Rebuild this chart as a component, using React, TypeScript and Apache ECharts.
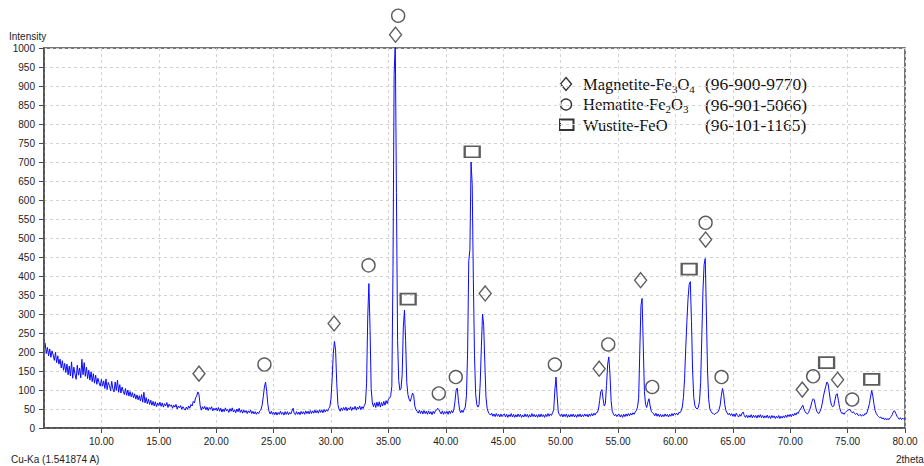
import { useEffect, useRef } from "react";
import * as echarts from "echarts";

// ---- scan (2theta start / step, degrees) ----
const SCAN_START = 5.1;
const SCAN_STEP = 0.1;

// ---- intensity, 5 degree segments ----
const seg05 = [
  224, 196, 212, 190, 208, 186, 203, 192, 178, 199,
  172, 190, 168, 181, 158, 177, 152, 170, 146, 168,
  140, 163, 137, 174, 131, 160, 142, 128, 165, 139,
  158, 132, 181, 140, 172, 136, 160, 130, 152, 126,
  148, 122, 143, 118, 139, 115, 131, 119, 110, 128,
];
const seg10 = [
  110, 124, 104, 129, 101, 120, 112, 98, 123, 103,
  95, 121, 99, 126, 94, 114, 92, 108, 97, 88,
  104, 86, 100, 84, 96, 82, 93, 79, 90, 76,
  87, 74, 85, 71, 88, 68, 94, 66, 80, 64,
  76, 62, 73, 60, 70, 58, 69, 56, 66, 59,
];
const seg15 = [
  68, 57, 66, 55, 64, 58, 67, 54, 63, 57,
  61, 52, 60, 55, 62, 50, 58, 53, 59, 49,
  56, 51, 47, 55, 49, 58, 52, 62, 58, 70,
  66, 79, 84, 95, 88, 60, 47, 56, 50, 57,
  48, 55, 46, 54, 49, 56, 45, 52, 47, 53,
];
const seg20 = [
  45, 54, 44, 52, 42, 50, 43, 53, 45, 49,
  41, 51, 44, 53, 42, 48, 40, 50, 43, 52,
  41, 48, 39, 47, 41, 46, 38, 45, 40, 47,
  38, 44, 37, 43, 36, 42, 38, 45, 48, 60,
  82, 108, 121, 96, 62, 44, 37, 44, 36, 42,
];
const seg25 = [
  35, 42, 34, 41, 36, 44, 36, 41, 34, 43,
  36, 43, 35, 41, 37, 45, 52, 38, 35, 43,
  36, 42, 35, 44, 37, 43, 36, 45, 38, 44,
  37, 46, 38, 45, 39, 47, 40, 46, 39, 48,
  41, 47, 40, 49, 42, 48, 44, 51, 56, 78,
];
const seg30 = [
  130, 196, 228, 205, 118, 62, 50, 44, 53, 46,
  54, 47, 55, 45, 53, 48, 56, 46, 54, 49,
  57, 47, 55, 50, 58, 48, 56, 51, 59, 66,
  118, 292, 380, 262, 104, 66, 56, 66, 54, 68,
  57, 69, 55, 67, 58, 70, 60, 72, 64, 76,
];
const seg35 = [
  78, 85, 110, 420, 930, 1015, 620, 230, 125, 100,
  104, 140, 266, 310, 230, 120, 88, 76, 70, 80,
  92, 86, 58, 48, 44, 39, 47, 38, 45, 37,
  46, 38, 44, 36, 45, 37, 43, 35, 44, 38,
  46, 47, 52, 48, 42, 37, 45, 36, 43, 38,
];
const seg40 = [
  44, 36, 45, 38, 46, 40, 48, 70, 100, 105,
  72, 48, 40, 47, 41, 49, 55, 85, 200, 440,
  470, 700, 640, 390, 190, 90, 62, 55, 62, 120,
  215, 300, 270, 170, 82, 52, 42, 37, 34, 39,
  31, 37, 30, 38, 31, 36, 29, 37, 30, 35,
];
const seg45 = [
  37, 29, 36, 28, 35, 30, 38, 29, 36, 28,
  35, 29, 37, 30, 36, 28, 34, 29, 37, 30,
  36, 28, 35, 29, 38, 30, 36, 29, 35, 28,
  36, 29, 37, 30, 35, 28, 36, 30, 38, 31,
  37, 33, 40, 48, 100, 134, 84, 42, 35, 31,
];
const seg50 = [
  37, 29, 36, 30, 37, 28, 35, 29, 36, 30,
  37, 29, 35, 28, 36, 30, 37, 29, 35, 30,
  37, 31, 36, 29, 37, 31, 38, 32, 39, 34,
  40, 41, 50, 72, 96, 101, 76, 58, 64, 112,
  168, 187, 142, 72, 44, 37, 32, 36, 30, 35,
];
const seg55 = [
  36, 29, 35, 28, 36, 30, 37, 31, 38, 32,
  39, 34, 40, 36, 42, 46, 55, 78, 205, 322,
  341, 218, 96, 62, 54, 68, 77, 58, 44, 40,
  38, 32, 39, 31, 37, 30, 36, 29, 35, 30,
  37, 31, 36, 29, 36, 31, 38, 32, 39, 35,
];
const seg60 = [
  39, 34, 41, 40, 45, 55, 80, 130, 210, 280,
  340, 378, 385, 280, 150, 80, 58, 52, 50, 55,
  70, 120, 240, 360, 430, 446, 300, 150, 75, 50,
  44, 39, 38, 35, 39, 40, 42, 48, 60, 85,
  104, 90, 62, 46, 40, 35, 39, 33, 38, 31,
];
const seg65 = [
  37, 30, 39, 33, 29, 36, 31, 39, 42, 33,
  28, 34, 27, 33, 28, 35, 27, 34, 28, 33,
  26, 34, 28, 35, 27, 33, 26, 32, 27, 34,
  26, 32, 25, 33, 27, 32, 25, 31, 26, 33,
  25, 31, 26, 32, 27, 34, 28, 35, 30, 36,
];
const seg70 = [
  30, 37, 32, 39, 34, 41, 38, 46, 50, 55,
  60, 50, 43, 39, 37, 41, 48, 58, 70, 77,
  74, 58, 45, 40, 38, 44, 52, 66, 84, 98,
  110, 121, 116, 95, 72, 60, 56, 58, 74, 88,
  90, 72, 54, 44, 38, 40, 36, 41, 44, 46,
];
const seg75 = [
  48, 49, 44, 40, 43, 38, 36, 39, 34, 33,
  36, 31, 35, 32, 38, 36, 42, 52, 64, 82,
  99, 84, 62, 46, 38, 33, 30, 27, 29, 24,
  27, 22, 26, 21, 25, 22, 27, 30, 36, 44,
  45, 38, 31, 27, 23, 27, 22, 26, 23, 25,
];

// ---- phase markers [2theta, intensity] ----
const magnetitePeaks = [
  [18.5, 143], [30.27, 275], [35.62, 1035], [43.43, 354], [53.36, 156],
  [56.97, 389], [62.63, 496], [71.05, 101], [74.13, 127],
];
const hematitePeaks = [
  [24.2, 167], [33.27, 428], [35.85, 1085], [39.39, 91], [40.87, 134],
  [49.5, 167], [54.15, 220], [57.98, 108], [62.63, 540], [64.02, 134],
  [72.0, 136], [75.4, 75],
];
const wustitePeaks = [
  [36.72, 339], [42.3, 727], [61.2, 418], [73.17, 172], [77.1, 128],
];

// ---- legend texts ----
const legendNames = [
  "{a|Magnetite-Fe}{s|3}{a|O}{s|4}",
  "{a|Hematite-Fe}{s|2}{a|O}{s|3}",
  "{a|Wustite-FeO}",
];
const legendCodes = ["(96-900-9770)", "(96-901-5066)", "(96-101-1165)"];

// ---- axis ----
const X_MIN = 5;
const X_MAX = 80;
const X_STEP = 5;
const Y_MIN = 0;
const Y_MAX = 1000;
const Y_STEP = 50;

const intensity = [
  ...seg05, ...seg10, ...seg15, ...seg20, ...seg25, ...seg30, ...seg35, ...seg40,
  ...seg45, ...seg50, ...seg55, ...seg60, ...seg65, ...seg70, ...seg75,
];

const SANS = '"Liberation Sans", Arial, sans-serif';
const SERIF = '"Liberation Serif", "Times New Roman", serif';
const AXIS_COLOR = "#4a4a4a";
const MARK_COLOR = "#333333";

export default function App() {
  const ref = useRef<HTMLDivElement>(null);

  useEffect(() => {
    if (!ref.current) return;
    const chart = echarts.init(ref.current, undefined, { renderer: "svg" });

    const lineData = intensity.map((v, i) => [
      Math.round((SCAN_START + i * SCAN_STEP) * 10) / 10,
      v,
    ]);

    const markStyle = (w: number) => ({
      color: "rgba(255,255,255,0)",
      borderColor: MARK_COLOR,
      borderWidth: w,
    });

    const legendY = [84, 104.5, 125];
    const graphic: any[] = [
      {
        type: "text",
        x: 9,
        y: 36,
        style: { text: "Intensity", font: `10px ${SANS}`, fill: "#222", verticalAlign: "middle" },
      },
      {
        type: "text",
        x: 11,
        y: 459,
        style: { text: "Cu-Ka (1.541874 A)", font: `10px ${SANS}`, fill: "#222", verticalAlign: "middle" },
      },
      {
        type: "text",
        x: 896,
        y: 459,
        style: { text: "2theta", font: `10px ${SANS}`, fill: "#222", verticalAlign: "middle" },
      },
      {
        type: "polygon",
        shape: { points: [[566, legendY[0] - 6.5], [571.5, legendY[0]], [566, legendY[0] + 6.5], [560.5, legendY[0]]] },
        style: { fill: "none", stroke: MARK_COLOR, lineWidth: 1.4 },
      },
      {
        type: "circle",
        shape: { cx: 566, cy: legendY[1], r: 5.5 },
        style: { fill: "none", stroke: MARK_COLOR, lineWidth: 1.4 },
      },
      {
        type: "rect",
        shape: { x: 560, y: legendY[2] - 5.5, width: 13.5, height: 10.5 },
        style: { fill: "none", stroke: MARK_COLOR, lineWidth: 2 },
      },
    ];
    legendNames.forEach((t, i) => {
      graphic.push({
        type: "text",
        x: 583,
        y: legendY[i],
        style: {
          text: t,
          fill: "#111",
          verticalAlign: "middle",
          rich: {
            a: { fontFamily: SERIF, fontSize: 16.5, lineHeight: 20, fill: "#111", color: "#111" },
            s: { fontFamily: SERIF, fontSize: 11, lineHeight: 11, verticalAlign: "bottom", fill: "#111", color: "#111" },
          },
        },
      });
      graphic.push({
        type: "text",
        x: 705,
        y: legendY[i],
        style: { text: legendCodes[i], font: `17.5px ${SERIF}`, fill: "#111", verticalAlign: "middle" },
      });
    });

    chart.setOption({
      animation: false,
      backgroundColor: "#ffffff",
      grid: {
        left: 44,
        right: 19,
        top: 48,
        bottom: 38,
        show: true,
        borderColor: AXIS_COLOR,
        borderWidth: 1.5,
        backgroundColor: "rgba(0,0,0,0)",
      },
      xAxis: {
        type: "value",
        min: X_MIN,
        max: X_MAX,
        interval: X_STEP,
        axisLine: { show: true, lineStyle: { color: AXIS_COLOR, width: 1.5 } },
        axisTick: { show: true, length: 5, lineStyle: { color: AXIS_COLOR, width: 1 } },
        axisLabel: {
          showMinLabel: false,
          formatter: (v: number) => v.toFixed(2),
          color: "#222",
          fontFamily: SANS,
          fontSize: 10,
          margin: 8,
        },
        splitLine: { show: true, lineStyle: { color: "#d2d2d2", type: [3, 3], width: 1 } },
      },
      yAxis: {
        type: "value",
        min: Y_MIN,
        max: Y_MAX,
        interval: Y_STEP,
        axisLine: { show: true, lineStyle: { color: AXIS_COLOR, width: 1.5 } },
        axisTick: { show: true, length: 5, lineStyle: { color: AXIS_COLOR, width: 1 } },
        axisLabel: {
          formatter: (v: number) => String(v),
          color: "#222",
          fontFamily: SANS,
          fontSize: 10,
          margin: 9,
        },
        splitLine: { show: true, lineStyle: { color: "#d2d2d2", type: [3, 3], width: 1 } },
      },
      series: [
        {
          type: "line",
          data: lineData,
          showSymbol: false,
          symbol: "none",
          clip: true,
          lineStyle: { color: "#0a0aff", width: 1 },
          z: 2,
          silent: true,
        },
        {
          type: "scatter",
          data: magnetitePeaks,
          symbol: "diamond",
          symbolSize: [12, 15],
          clip: false,
          itemStyle: markStyle(1.4),
          z: 3,
          silent: true,
        },
        {
          type: "scatter",
          data: hematitePeaks,
          symbol: "circle",
          symbolSize: 13,
          clip: false,
          itemStyle: markStyle(1.4),
          z: 3,
          silent: true,
        },
        {
          type: "scatter",
          data: wustitePeaks,
          symbol: "rect",
          symbolSize: [15, 11],
          clip: false,
          itemStyle: markStyle(2),
          z: 3,
          silent: true,
        },
      ],
      graphic,
    });

    return () => chart.dispose();
  }, []);

  return (
    <div
      ref={ref}
      style={{ position: "fixed", left: 0, top: 0, width: 924, height: 466, background: "#fff" }}
    />
  );
}
